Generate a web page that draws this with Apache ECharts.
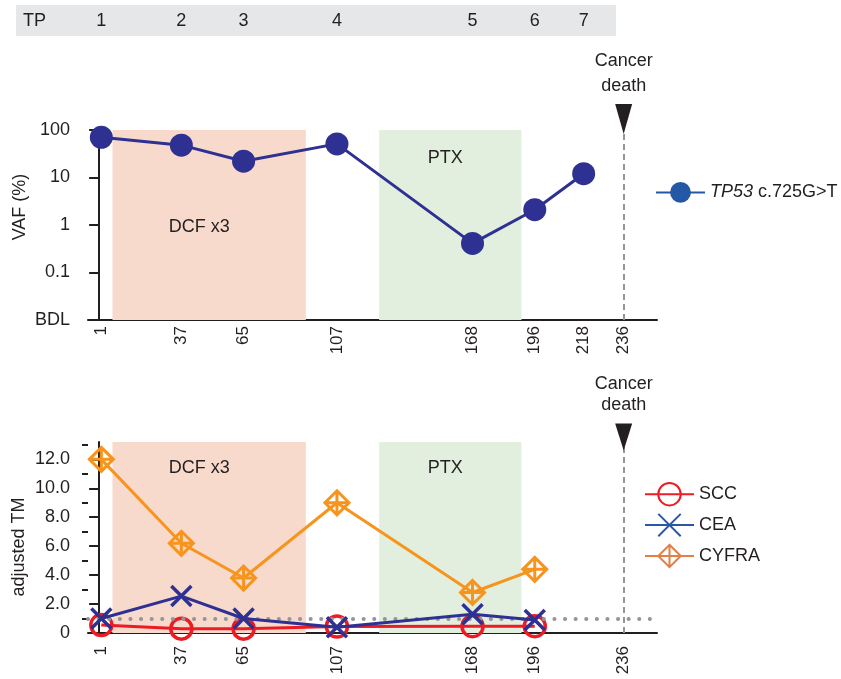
<!DOCTYPE html>
<html>
<head>
<meta charset="utf-8">
<script src="https://cdn.jsdelivr.net/npm/echarts@6/dist/echarts.min.js"></script>
<style>
  html, body { margin: 0; padding: 0; background: #fff; }
  #chart { width: 841px; height: 679px; }
</style>
</head>
<body>
<div id="chart"></div>
<script>
// Sampling days (time points TP1..TP7)
const tpNames = ['1', '2', '3', '4', '5', '6', '7'];
const sampleDays = [1, 37, 65, 107, 168, 196, 218];
const axisDays = [1, 37, 65, 107, 168, 196, 218, 236];
const tmAxisDays = [1, 37, 65, 107, 168, 196, 236];
const deathDay = 236;

// Treatment periods (days)
const dcfPeriod = [6, 93];
const ptxPeriod = [126, 190];

// ctDNA variant allele frequency (%), TP53 c.725G>T
const vafValues = [70, 48, 22, 51, 0.41, 2.1, 12];

// Adjusted tumour markers (days 1..196)
const tmDays = [1, 37, 65, 107, 168, 196];
const sccValues = [0.55, 0.3, 0.3, 0.45, 0.47, 0.47];
const ceaValues = [1.0, 2.55, 1.0, 0.4, 1.3, 0.9];
const cyfraValues = [12.0, 6.2, 3.8, 9.0, 2.8, 4.4];
const tmCutoff = 1.0;

const FONT = "'Liberation Sans', Arial, Helvetica, sans-serif";
const TXT = '#231f20';
const NAVY = '#2e3192';
const RED = '#ed1c24';
const ORANGE = '#f7941d';
const GRAY = '#939598';

const pairs = (xs, ys) => xs.map((x, i) => [x, ys[i]]);

const xAxisBase = (idx, margin, labels) => ({
  type: 'value', gridIndex: idx, min: -5, max: 251,
  splitLine: { show: false },
  axisLine: { lineStyle: { color: TXT, width: 2 } },
  axisTick: { show: false },
  axisLabel: {
    customValues: labels, rotate: 90, margin: margin,
    color: TXT, fontSize: 17, fontFamily: FONT
  }
});

const deathMarkLine = {
  silent: true, symbol: 'none', label: { show: false },
  lineStyle: { color: GRAY, width: 2, type: [6, 4] },
  data: [{ xAxis: deathDay }]
};

const triangle = 'path://M0,0 L17,0 L8.5,30 Z';
const deathMarkPoint = (yVal, size, offset, lh, dist) => ({
  silent: true,
  symbol: triangle, symbolSize: size, symbolOffset: [0, offset],
  itemStyle: { color: TXT, borderWidth: 0 },
  label: {
    show: true, position: 'top', distance: dist, formatter: 'Cancer\ndeath',
    color: TXT, fontSize: 18, lineHeight: lh, fontFamily: FONT
  },
  data: [{ coord: [deathDay, yVal] }]
});

const areaLabel = (text, off) => ({
  show: true, position: 'inside', offset: off, formatter: text,
  color: TXT, fontSize: 18, fontFamily: FONT
});

const treatAreas = (dcfOff, ptxOff) => ({
  silent: true,
  data: [
    [{ xAxis: dcfPeriod[0], itemStyle: { color: 'rgb(248,218,204)' }, label: areaLabel('DCF x3', dcfOff) },
     { xAxis: dcfPeriod[1] }],
    [{ xAxis: ptxPeriod[0], itemStyle: { color: 'rgb(226,239,222)' }, label: areaLabel('PTX', ptxOff) },
     { xAxis: ptxPeriod[1] }]
  ]
});

const crossPath = 'path://M0,0 L10,10 M10,0 L0,10';
const diamondPath = 'path://M5,0 L10,5 L5,10 L0,5 Z M5,0 L5,10 M0,5 L10,5';

const option = {
  animation: false,
  backgroundColor: '#fff',
  textStyle: { fontFamily: FONT },
  grid: [
    { left: 88, top: 130, width: 569, height: 190 },
    { left: 88, top: 442, width: 569, height: 191 }
  ],
  xAxis: [
    xAxisBase(0, 6, axisDays),
    xAxisBase(1, 13, tmAxisDays)
  ],
  yAxis: [
    {
      type: 'log', gridIndex: 0, min: 0.01, max: 100, logBase: 10,
      splitLine: { show: false },
      axisLine: { show: true, lineStyle: { color: TXT, width: 2 } },
      axisTick: { show: true, length: 10, lineStyle: { color: TXT, width: 2 } },
      axisLabel: {
        margin: 18, color: TXT, fontSize: 18, fontFamily: FONT,
        formatter: v => {
          const e = Math.round(Math.log10(v));
          if (e <= -2) return 'BDL';
          return e < 0 ? '0.' + '0'.repeat(-e - 1) + '1' : String(Math.pow(10, e));
        }
      }
    },
    {
      type: 'value', gridIndex: 1, min: 0, max: 13.2,
      splitLine: { show: false },
      axisLine: { show: true, lineStyle: { color: TXT, width: 2 } },
      axisTick: { show: true, length: 10, customValues: [0, 2, 4, 6, 8, 10, 12], lineStyle: { color: TXT, width: 2 } },
      axisLabel: {
        customValues: [0, 2, 4, 6, 8, 10, 12],
        margin: 18, color: TXT, fontSize: 18, fontFamily: FONT,
        formatter: v => (v === 0 ? '0' : v.toFixed(1))
      }
    },
    {
      // short intermediate ticks on the tumour-marker axis
      type: 'value', gridIndex: 1, min: 0, max: 13.2, position: 'left',
      splitLine: { show: false },
      axisLine: { show: false },
      axisTick: { show: true, length: 6, customValues: [1, 3, 5, 7, 9, 11, 13], lineStyle: { color: TXT, width: 2 } },
      axisLabel: { show: false }
    }
  ],
  legend: [
    {
      left: 650, top: 177, itemWidth: 49, itemHeight: 26,
      selectedMode: false,
      textStyle: {
        color: TXT, fontSize: 18, fontFamily: FONT,
        rich: { i: { fontStyle: 'italic', fontSize: 18, fontFamily: FONT, color: TXT } }
      },
      formatter: () => '{i|TP53} c.725G>T',
      data: [{ name: 'TP53 c.725G>T', itemStyle: { color: '#2458a6' }, lineStyle: { color: '#2458a6' } }]
    },
    {
      left: 639, top: 477, orient: 'vertical', itemWidth: 49, itemHeight: 28, itemGap: 6.5,
      selectedMode: false,
      textStyle: { color: TXT, fontSize: 18, fontFamily: FONT },
      data: [
        { name: 'SCC' },
        { name: 'CEA', itemStyle: { borderColor: '#2b57a6' }, lineStyle: { color: '#2b57a6' } },
        { name: 'CYFRA', itemStyle: { borderColor: '#e57e45' }, lineStyle: { color: '#e57e45' } }
      ]
    }
  ],
  series: [
    {
      name: 'TP53 c.725G>T', type: 'line', xAxisIndex: 0, yAxisIndex: 0,
      data: pairs(sampleDays, vafValues),
      symbol: 'circle', symbolSize: 23,
      lineStyle: { color: NAVY, width: 3 },
      itemStyle: { color: NAVY },
      emphasis: { disabled: true },
      markArea: treatAreas([-10, 2], [-5, -67]),
      markLine: deathMarkLine,
      markPoint: deathMarkPoint(100, [17, 30], -11, 25, 5),
      z: 3
    },
    {
      name: 'CYFRA', type: 'line', xAxisIndex: 1, yAxisIndex: 1,
      data: pairs(tmDays, cyfraValues),
      symbol: diamondPath, symbolSize: 24,
      lineStyle: { color: ORANGE, width: 3 },
      itemStyle: { color: 'rgba(0,0,0,0)', borderColor: ORANGE, borderWidth: 3 },
      emphasis: { disabled: true },
      markArea: treatAreas([-10, -69], [-5, -69]),
      markPoint: deathMarkPoint(13.2, [17, 27], -5, 21, 8),
      markLine: deathMarkLine,
      z: 3
    },
    {
      name: 'SCC', type: 'line', xAxisIndex: 1, yAxisIndex: 1,
      data: pairs(tmDays, sccValues),
      symbol: 'circle', symbolSize: 21,
      lineStyle: { color: RED, width: 3 },
      itemStyle: { color: 'rgba(0,0,0,0)', borderColor: RED, borderWidth: 3.5 },
      emphasis: { disabled: true },
      markLine: {
        silent: true, symbol: 'none', label: { show: false },
        lineStyle: { color: GRAY, width: 4, type: [0.1, 10.5], cap: 'round' },
        data: [{ yAxis: tmCutoff }]
      },
      z: 4
    },
    {
      name: 'CEA', type: 'line', xAxisIndex: 1, yAxisIndex: 1,
      data: pairs(tmDays, ceaValues),
      symbol: crossPath, symbolSize: 20,
      lineStyle: { color: NAVY, width: 3 },
      itemStyle: { color: 'rgba(0,0,0,0)', borderColor: NAVY, borderWidth: 3.5 },
      emphasis: { disabled: true },
      z: 5
    }
  ]
};

const chart = echarts.init(document.getElementById('chart'), null, { renderer: 'canvas' });
chart.setOption(option);

// Header strip with time-point numbers aligned to the sampling days
const tpGraphics = [
  { type: 'rect', shape: { x: 16, y: 5, width: 600, height: 31 }, style: { fill: '#e6e7e8' }, silent: true },
  { type: 'text', x: 23, y: 21, silent: true,
    style: { text: 'TP', fill: TXT, font: '18px ' + FONT, verticalAlign: 'middle', align: 'left' } }
];
sampleDays.forEach((d, i) => {
  const px = chart.convertToPixel({ xAxisIndex: 0 }, d);
  tpGraphics.push({
    type: 'text', x: px, y: 21, silent: true,
    style: { text: tpNames[i], fill: TXT, font: '18px ' + FONT, verticalAlign: 'middle', align: 'center' }
  });
});
// Rotated axis titles
tpGraphics.push({
  type: 'text', x: 20, y: 207, rotation: Math.PI / 2, silent: true,
  style: { text: 'VAF (%)', fill: TXT, font: '18px ' + FONT, align: 'center', verticalAlign: 'middle' }
});
tpGraphics.push({
  type: 'text', x: 19, y: 547, rotation: Math.PI / 2, silent: true,
  style: { text: 'adjusted TM', fill: TXT, font: '18px ' + FONT, align: 'center', verticalAlign: 'middle' }
});
chart.setOption({ graphic: tpGraphics });
</script>
</body>
</html>
